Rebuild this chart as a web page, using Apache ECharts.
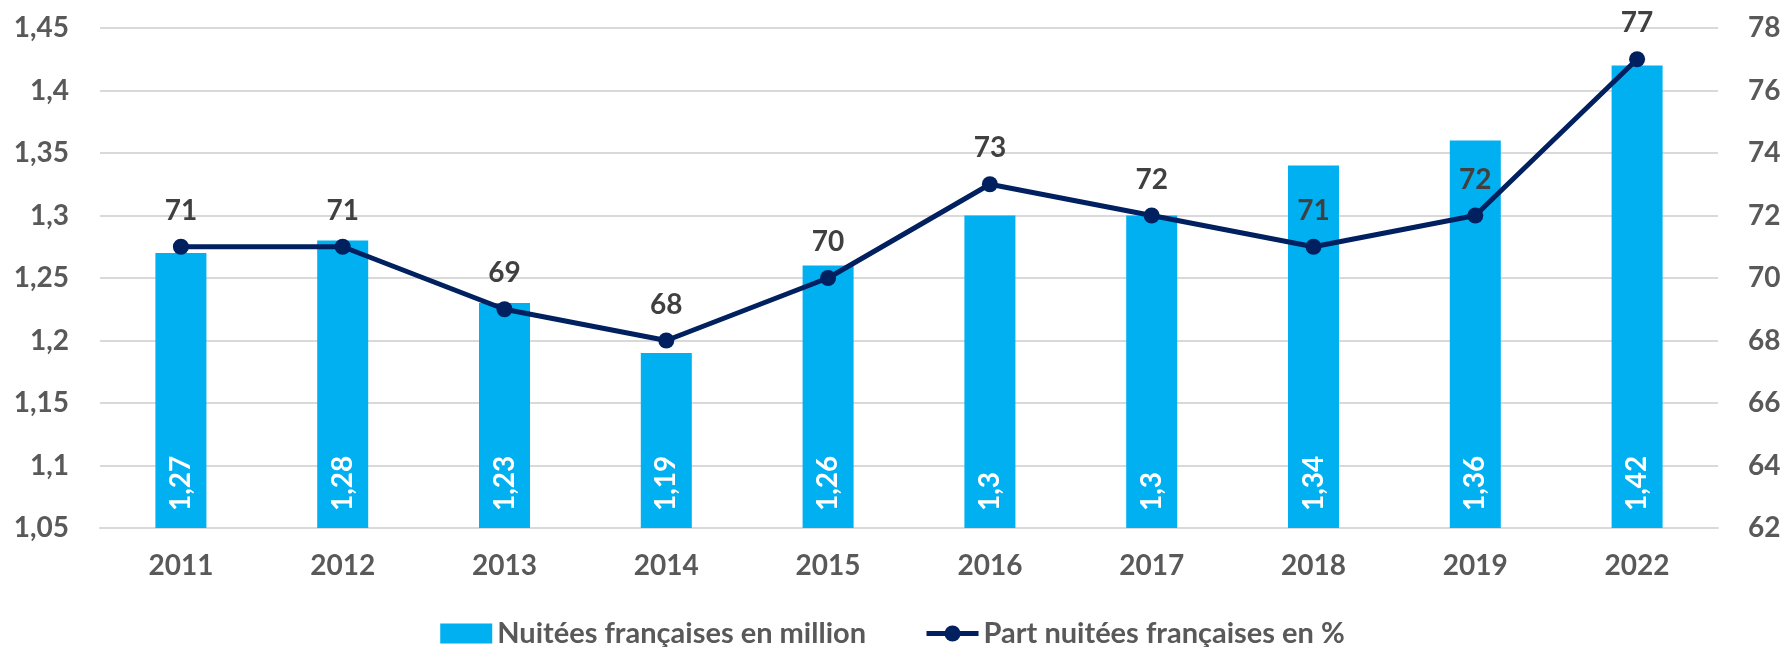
<!DOCTYPE html>
<html>
<head>
<meta charset="utf-8">
<script src="https://cdn.jsdelivr.net/npm/echarts@6/dist/echarts.min.js"></script>
<style>
html,body{margin:0;padding:0;background:#fff;}
#chart{width:1785px;height:647px;}
</style>
</head>
<body>
<div id="chart"></div>
<script>
const categories = ['2011','2012','2013','2014','2015','2016','2017','2018','2019','2022'];
const nuitees = [1.27, 1.28, 1.23, 1.19, 1.26, 1.3, 1.3, 1.34, 1.36, 1.42];
const part = [71, 71, 69, 68, 70, 73, 72, 71, 72, 77];
const seriesNames = ['Nuitées françaises en million', 'Part nuitées françaises en %'];

const FONT = 'Lato';
const GRAY = '#595959';
const fmt = v => String(parseFloat(Number(v).toFixed(2))).replace('.', ',');

const chart = echarts.init(document.getElementById('chart'));
chart.setOption({
  animation: false,
  textStyle: { fontFamily: FONT },
  grid: { left: 100, right: 67, top: 28, bottom: 119, containLabel: false },
  legend: {
    top: 614,
    left: 'center',
    itemGap: 58,
    itemWidth: 52,
    itemHeight: 20,
    textStyle: { fontFamily: FONT, fontWeight: 'bold', fontSize: 29, color: GRAY },
    data: [
      { name: seriesNames[0], icon: 'rect' },
      { name: seriesNames[1], lineStyle: { width: 5 } }
    ]
  },
  xAxis: {
    type: 'category',
    data: categories,
    axisLine: { show: true, lineStyle: { color: '#d9d9d9', width: 2 } },
    axisTick: { show: false },
    axisLabel: { margin: 24, fontFamily: FONT, fontWeight: 'bold', fontSize: 28, color: GRAY }
  },
  yAxis: [
    {
      type: 'value', min: 1.05, max: 1.45, interval: 0.05,
      axisLine: { show: false }, axisTick: { show: false },
      splitLine: { lineStyle: { color: '#d9d9d9', width: 2 } },
      axisLabel: { margin: 31, fontFamily: FONT, fontWeight: 'bold', fontSize: 28, color: GRAY, formatter: fmt }
    },
    {
      type: 'value', min: 62, max: 78, interval: 2,
      axisLine: { show: false }, axisTick: { show: false },
      splitLine: { show: false },
      axisLabel: { margin: 30, fontFamily: FONT, fontWeight: 'bold', fontSize: 28, color: GRAY }
    }
  ],
  series: [
    {
      name: seriesNames[0],
      type: 'bar',
      data: nuitees,
      barWidth: 51,
      itemStyle: { color: '#00B0F0' },
      label: {
        show: true,
        position: 'insideBottom',
        rotate: 90,
        align: 'left',
        verticalAlign: 'middle',
        distance: 17,
        color: '#ffffff',
        fontFamily: FONT,
        fontWeight: 'bold',
        fontSize: 28,
        formatter: p => fmt(p.value)
      }
    },
    {
      name: seriesNames[1],
      type: 'line',
      yAxisIndex: 1,
      data: part,
      symbol: 'circle',
      symbolSize: 16,
      lineStyle: { color: '#002060', width: 5 },
      itemStyle: { color: '#002060' },
      label: {
        show: true,
        position: 'top',
        distance: 14,
        color: '#404040',
        fontFamily: FONT,
        fontWeight: 'bold',
        fontSize: 28
      }
    }
  ]
});
</script>
</body>
</html>
